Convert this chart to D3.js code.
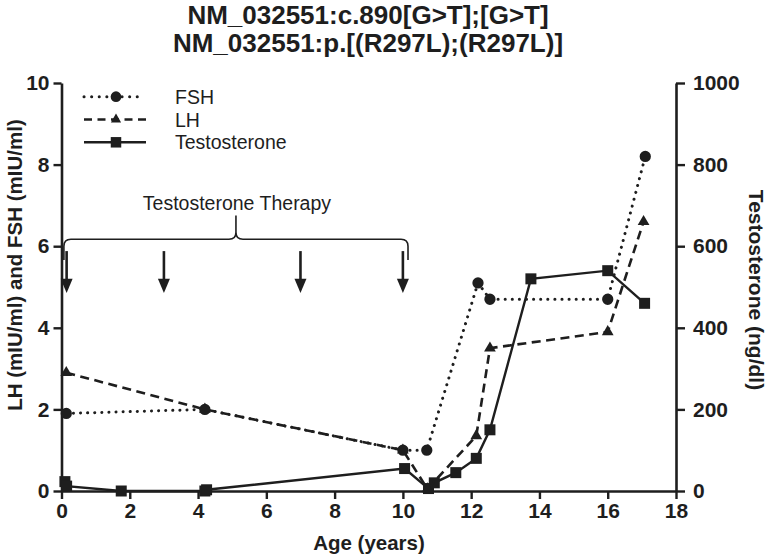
<!DOCTYPE html>
<html><head><meta charset="utf-8">
<script src="https://cdn.jsdelivr.net/npm/d3@7"></script>
<style>
html,body{margin:0;padding:0;background:#fff;}
svg{display:block;}
text{font-family:"Liberation Sans",Arial,Helvetica,sans-serif;fill:#1e1e1e;}
</style></head>
<body>
<svg id="chart" width="768" height="556"></svg>
<script>
// ---- data ----
const titleLines = ["NM_032551:c.890[G>T];[G>T]", "NM_032551:p.[(R297L);(R297L)]"];
const xTicks = [0, 2, 4, 6, 8, 10, 12, 14, 16, 18];
const yLeftTicks = [0, 2, 4, 6, 8, 10];
const yRightTicks = [0, 200, 400, 600, 800, 1000];
const seriesNames = ["FSH", "LH", "Testosterone"];
const fshAge = [0.14, 4.2, 10.0, 10.7, 12.2, 12.55, 16.0, 17.1];
const fshVal = [1.9, 2.0, 1.0, 1.0, 5.1, 4.7, 4.7, 8.2];
const lhAge = [0.14, 4.2, 10.0, 10.72, 12.15, 12.55, 16.0, 17.05];
const lhVal = [2.9, 2.0, 1.0, 0.05, 1.35, 3.5, 3.9, 6.6];
const tAge = [0.1, 0.15, 1.75, 4.2, 4.25, 10.05, 10.75, 10.92, 11.55, 12.15, 12.55, 13.75, 16.0, 17.08];
const tVal = [23, 12, 0, 0, 3, 55, 6, 20, 45, 80, 150, 520, 540, 460];
const therapyLabel = "Testosterone Therapy";
const therapyAges = [0.15, 3, 7, 10];
const therapyStart = 0.07, therapyEnd = 10.15;

// ---- layout ----
const svg = d3.select("#chart");
const ink = "#1e1e1e";
const x = d3.scaleLinear().domain([0, 18]).range([61.5, 676]);
const yL = d3.scaleLinear().domain([0, 10]).range([491, 83]);
const yR = d3.scaleLinear().domain([0, 1000]).range([491, 83]);

// title
svg.append("g").selectAll("text").data(titleLines).join("text")
  .attr("x", 368).attr("y", (d, i) => 24 + i * 27.5)
  .attr("text-anchor", "middle").attr("font-size", 26).attr("font-weight", "bold")
  .text(d => d);

function styleAxis(g) {
  g.select(".domain").attr("stroke", ink).attr("stroke-width", 2.6);
  g.selectAll(".tick line").attr("stroke", ink).attr("stroke-width", 2.4);
  g.selectAll(".tick text").attr("font-size", 21).attr("font-weight", "bold")
    .attr("font-family", '"Liberation Sans",Arial,sans-serif').attr("fill", ink);
}
svg.append("g").attr("transform", "translate(0,491)")
  .call(d3.axisBottom(x).tickValues(xTicks).tickSize(8).tickSizeOuter(0).tickPadding(4).tickFormat(d3.format("d")))
  .call(styleAxis);
svg.append("g").attr("transform", "translate(61.5,0)")
  .call(d3.axisLeft(yL).tickValues(yLeftTicks).tickSize(8).tickSizeOuter(0).tickPadding(4).tickFormat(d3.format("d")))
  .call(styleAxis);
svg.append("g").attr("transform", "translate(676,0)")
  .call(d3.axisRight(yR).tickValues(yRightTicks).tickSize(9).tickSizeOuter(0).tickPadding(8).tickFormat(d3.format("d")))
  .call(styleAxis);

// axis titles
svg.append("text").attr("x", 369).attr("y", 550).attr("text-anchor", "middle")
  .attr("font-size", 20.5).attr("font-weight", "bold").text("Age (years)");
svg.append("text").attr("transform", "translate(22,265) rotate(-90)").attr("text-anchor", "middle")
  .attr("font-size", 20.5).attr("font-weight", "bold").text("LH (mIU/ml) and FSH (mIU/ml)");
svg.append("text").attr("transform", "translate(749,290) rotate(90)").attr("text-anchor", "middle")
  .attr("font-size", 21).attr("font-weight", "bold").text("Testosterone (ng/dl)");

// series
const fsh = fshAge.map((a, i) => [a, fshVal[i]]);
const lh = lhAge.map((a, i) => [a, lhVal[i]]);
const tt = tAge.map((a, i) => [a, tVal[i]]);
const lineL = d3.line().x(d => x(d[0])).y(d => yL(d[1]));
const lineR = d3.line().x(d => x(d[0])).y(d => yR(d[1]));

const styles = {
  FSH: {dash: "0.1,7", width: 3, cap: "round"},
  LH: {dash: "9,5.5", width: 2.6, cap: "butt"},
  Testosterone: {dash: null, width: 2.4, cap: "butt"}
};
const sym = {
  FSH: d3.symbol().type(d3.symbolCircle).size(100),
  LH: d3.symbol().type(d3.symbolTriangle).size(60),
  Testosterone: d3.symbol().type(d3.symbolSquare).size(121)
};

const plot = svg.append("g");
function drawSeries(name, data, lineGen, yScale) {
  const s = styles[name];
  plot.append("path").datum(data).attr("d", lineGen).attr("fill", "none")
    .attr("stroke", ink).attr("stroke-width", s.width).attr("stroke-linecap", s.cap)
    .attr("stroke-dasharray", s.dash);
  plot.append("g").selectAll("path").data(data).join("path")
    .attr("transform", d => `translate(${x(d[0])},${yScale(d[1])})`)
    .attr("d", sym[name]()).attr("fill", ink);
}
drawSeries("Testosterone", tt, lineR, yR);
drawSeries("LH", lh, lineL, yL);
drawSeries("FSH", fsh, lineL, yL);

// legend
const leg = svg.append("g");
const legY = [96.7, 119.5, 142.3];
seriesNames.forEach((n, i) => {
  const s = styles[n];
  leg.append("line").attr("x1", 84).attr("x2", n === "FSH" ? 142 : 146)
    .attr("y1", legY[i]).attr("y2", legY[i])
    .attr("stroke", ink).attr("stroke-width", s.width).attr("stroke-linecap", s.cap)
    .attr("stroke-dasharray", n === "FSH" ? "0.1,7.5" : (n === "LH" ? "8,5.5" : null));
  leg.append("path").attr("transform", `translate(116,${legY[i]})`)
    .attr("d", (n === "FSH" ? d3.symbol().type(d3.symbolCircle).size(90) :
                n === "LH" ? d3.symbol().type(d3.symbolTriangle).size(45) :
                d3.symbol().type(d3.symbolSquare).size(110))()).attr("fill", ink);
  leg.append("text").attr("x", 175).attr("y", legY[i]).attr("dy", "0.36em")
    .attr("font-size", 19.5).text(n);
});

// therapy annotation
const ann = svg.append("g");
const arrowTop = 5.88, arrowTip = 4.85, arrowHead = 5.2;
therapyAges.forEach(a => {
  ann.append("line").attr("x1", x(a)).attr("x2", x(a))
    .attr("y1", yL(arrowTop)).attr("y2", yL(arrowHead) + 2)
    .attr("stroke", ink).attr("stroke-width", 2.6);
  ann.append("path").attr("d", `M${x(a) - 6},${yL(arrowHead)} L${x(a) + 6},${yL(arrowHead)} L${x(a)},${yL(arrowTip)} Z`)
    .attr("fill", ink);
});
// curly brace
const bx0 = x(therapyStart), bx1 = x(therapyEnd), bm = (bx0 + bx1) / 2;
const by = yL(6.17), byEnd = yL(5.66), byPeak = yL(6.75);
const r = 7;
const brace = `M${bx0},${byEnd} L${bx0},${by + r} Q${bx0},${by} ${bx0 + r},${by}
  L${bm - r},${by} Q${bm},${by} ${bm},${by - r} L${bm},${byPeak}
  M${bm},${by - r} Q${bm},${by} ${bm + r},${by} L${bx1 - r},${by} Q${bx1},${by} ${bx1},${by + r} L${bx1},${byEnd}`;
ann.append("path").attr("d", brace).attr("fill", "none").attr("stroke", ink).attr("stroke-width", 1.6);
ann.append("text").attr("x", bm + 1).attr("y", yL(6.76) - 5).attr("text-anchor", "middle")
  .attr("font-size", 19.5).text(therapyLabel);
</script>
</body></html>
